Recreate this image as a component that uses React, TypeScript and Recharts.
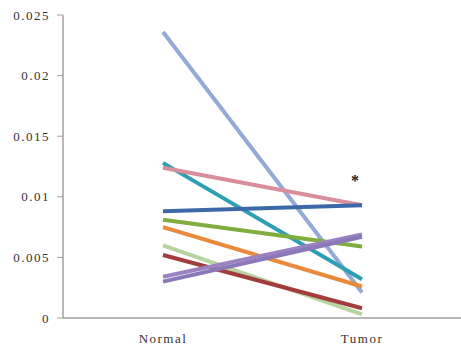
import React from 'react'
import {
  LineChart,
  Line,
  XAxis,
  YAxis,
  ReferenceDot,
} from 'recharts'

const categories = ['Normal', 'Tumor']
const yTicks = [0, 0.005, 0.01, 0.015, 0.02, 0.025]

// one pair of values (Normal, Tumor) per sample
const sampleNames = ['s1', 's2', 's3', 's4', 's5', 's6', 's7', 's8', 's9', 's10']
const normalValues = [0.0236, 0.0128, 0.0124, 0.0088, 0.0081, 0.0075, 0.006, 0.0052, 0.0034, 0.003]
const tumorValues = [0.0021, 0.0032, 0.0093, 0.0093, 0.0059, 0.0026, 0.0003, 0.0008, 0.0069, 0.0067]
const lineColors = [
  '#93a9d6',
  '#2e9fb3',
  '#d98e9c',
  '#3b68a6',
  '#7fae3f',
  '#e8893c',
  '#b7d3a0',
  '#a33c3c',
  '#9b83c2',
  '#8b78b8',
]

const data = categories.map((cat, ci) => {
  const row: Record<string, string | number> = { name: cat }
  sampleNames.forEach((s, i) => {
    row[s] = ci === 0 ? normalValues[i] : tumorValues[i]
  })
  return row
})

const fontFamily = '"Liberation Serif", "DejaVu Serif", serif'
const tickStyle = { fontSize: 13, fill: '#333', fontFamily, letterSpacing: 1.5 }

const Star = ({ viewBox }: any) => (
  <text
    x={viewBox.x - 7}
    y={viewBox.y}
    fontFamily={fontFamily}
    fontSize={16}
    fontWeight="bold"
    fill="#222"
    textAnchor="middle"
  >
    *
  </text>
)

export default function App() {
  return (
    <div style={{ position: 'absolute', left: 0, top: 0, background: '#fff' }}>
      <LineChart
        width={461}
        height={350}
        data={data}
        margin={{ top: 15, right: 0, bottom: 2, left: 0 }}
      >
        <XAxis
          dataKey="name"
          height={30}
          padding={{ left: 100, right: 99 }}
          axisLine={{ stroke: '#a0a0a0', strokeWidth: 1.5 }}
          tickLine={false}
          tickMargin={10}
          tick={tickStyle}
        />
        <YAxis
          width={63}
          domain={[0, 0.025]}
          ticks={yTicks}
          interval={0}
          axisLine={{ stroke: '#a0a0a0', strokeWidth: 1.5 }}
          tickLine={{ stroke: '#a0a0a0' }}
          tickSize={6}
          tickMargin={7}
          tick={tickStyle}
        />
        {sampleNames.map((s, i) => (
          <Line
            key={s}
            dataKey={s}
            type="linear"
            stroke={lineColors[i]}
            strokeWidth={4}
            dot={false}
            activeDot={false}
            isAnimationActive={false}
          />
        ))}
        <ReferenceDot
          x="Tumor"
          y={0.0109}
          r={0}
          fill="none"
          stroke="none"
          label={<Star />}
        />
      </LineChart>
    </div>
  )
}
